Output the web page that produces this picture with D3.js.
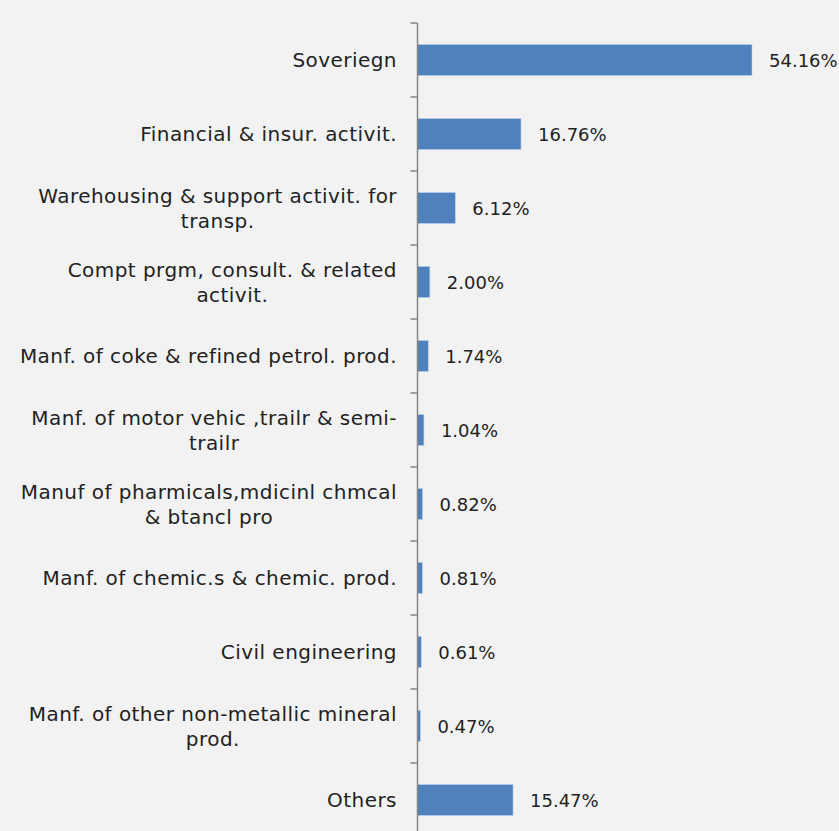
<!DOCTYPE html>
<html>
<head>
<meta charset="utf-8">
<script src="https://cdn.jsdelivr.net/npm/d3@7/dist/d3.min.js"></script>
<style>
  html, body { margin: 0; padding: 0; background: #f2f2f2; }
  svg { display: block; }
  text { font-family: "DejaVu Sans", sans-serif; fill: #222222; }
</style>
</head>
<body>
<svg id="chart" width="839" height="831"></svg>
<script>
// Sector exposure, share of total (%)
const categories = [
  ["Soveriegn"],
  ["Financial & insur. activit."],
  ["Warehousing & support activit. for", "transp."],
  ["Compt prgm, consult. & related", "activit."],
  ["Manf. of coke & refined petrol. prod."],
  ["Manf. of motor vehic ,trailr & semi-", "trailr"],
  ["Manuf of pharmicals,mdicinl chmcal", "& btancl pro"],
  ["Manf. of chemic.s & chemic. prod."],
  ["Civil engineering"],
  ["Manf. of other non-metallic mineral", "prod."],
  ["Others"]
];
const values = [54.16, 16.76, 6.12, 2.00, 1.74, 1.04, 0.82, 0.81, 0.61, 0.47, 15.47];
const valueLabels = ["54.16%", "16.76%", "6.12%", "2.00%", "1.74%", "1.04%", "0.82%", "0.81%", "0.61%", "0.47%", "15.47%"];

const svg = d3.select("#chart");
const axisX = 417.5;
const plotTop = 23;
const step = 74;
const catFontSize = 20;
const valFontSize = 18;

const y = d3.scaleBand()
  .domain(d3.range(categories.length))
  .range([plotTop, plotTop + step * categories.length])
  .paddingInner(0.58)
  .paddingOuter(0.29);

const x = d3.scaleLinear()
  .domain([0, 54.16])
  .range([axisX, 752]);

// bars
svg.append("g").selectAll("rect")
  .data(values)
  .join("rect")
  .attr("x", axisX)
  .attr("y", (d, i) => y(i))
  .attr("width", d => x(d) - axisX)
  .attr("height", y.bandwidth())
  .attr("fill", "#4f81bd")
  .attr("stroke", "#bcd0e8")
  .attr("stroke-width", 0.6);

// value labels
svg.append("g").selectAll("text")
  .data(values)
  .join("text")
  .attr("x", d => x(d) + 17)
  .attr("y", (d, i) => y(i) + y.bandwidth() / 2 + 1)
  .attr("dy", "0.35em")
  .attr("font-size", valFontSize)
  .text((d, i) => valueLabels[i]);

// category axis: line + ticks at band boundaries
const axisG = svg.append("g");
axisG.append("line")
  .attr("x1", axisX).attr("x2", axisX)
  .attr("y1", plotTop).attr("y2", 831)
  .attr("stroke", "#868686").attr("stroke-width", 1.5);
axisG.selectAll("line.tick")
  .data(d3.range(categories.length + 1))
  .join("line")
  .attr("class", "tick")
  .attr("x1", axisX - 7).attr("x2", axisX)
  .attr("y1", i => plotTop + i * step).attr("y2", i => plotTop + i * step)
  .attr("stroke", "#868686").attr("stroke-width", 1.5);

// category labels (wrapped lines centred on each other, block right-aligned)
const labelRight = 397;
const lineH = 25;
categories.forEach((lines, i) => {
  const cy = y(i) + y.bandwidth() / 2;
  const g = svg.append("g");
  const texts = lines.map((t, k) => g.append("text")
    .attr("font-size", catFontSize)
    .attr("letter-spacing", 0.45)
    .attr("dy", "0.35em")
    .attr("y", cy + (k - (lines.length - 1) / 2) * lineH)
    .text(t));
  const widths = texts.map(t => t.node().getComputedTextLength());
  const maxW = d3.max(widths);
  const centre = labelRight - maxW / 2;
  texts.forEach(t => t.attr("x", centre).attr("text-anchor", "middle"));
});
</script>
</body>
</html>
